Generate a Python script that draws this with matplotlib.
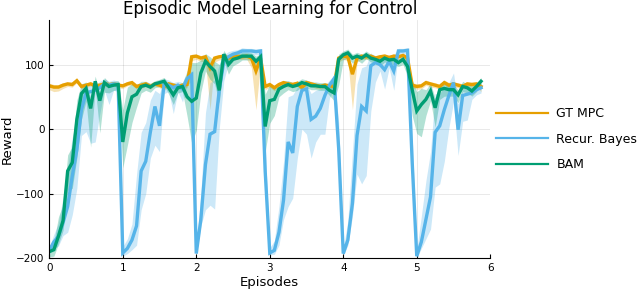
import numpy as np
import matplotlib
matplotlib.use("Agg")
import matplotlib.pyplot as plt

# 16 evaluations per episode
steps_per_episode = 16
n_points = 95

# GT MPC
gt_mean = [67, 65, 65, 68, 70, 69, 75, 66, 68, 70, 67, 68, 70, 69, 70, 68,
           67, 70, 72, 66, 68, 70, 66, 70, 68, 65, 70, 68, 66, 68, 69,
           112, 113, 110, 112, 95, 110, 112, 113, 110, 112, 113, 112, 113, 110, 90, 110,
           66, 69, 64, 69, 72, 70, 69, 71, 64, 72, 70, 68, 66, 68, 67, 66,
           110, 113, 112, 85, 110, 113, 112, 113, 110, 112, 113, 111, 113, 112, 114, 110,
           68, 66, 67, 72, 70, 68, 66, 72, 68, 70, 68, 66, 70, 69, 70, 66]
gt_dlo = [6, 7, 6, 5, 4, 4, 3, 4, 4, 3, 4, 5, 4, 4, 3, 4,
          4, 3, 4, 4, 5, 4, 4, 3, 4, 5, 4, 4, 5, 4, 5,
          6, 5, 5, 8, 65, 6, 5, 4, 5, 4, 5, 4, 5, 15, 60, 8,
          5, 4, 5, 4, 4, 5, 4, 4, 5, 4, 4, 5, 4, 4, 5, 4,
          6, 5, 6, 55, 6, 5, 4, 5, 4, 5, 4, 5, 4, 4, 5, 8,
          5, 4, 5, 4, 5, 4, 5, 4, 4, 5, 4, 4, 5, 4, 4, 8]
gt_dhi = [4, 4, 4, 4, 3, 4, 3, 4, 3, 4, 3, 4, 4, 3, 4, 4,
          3, 4, 3, 4, 3, 4, 4, 3, 4, 4, 3, 4, 4, 3, 4,
          4, 3, 4, 3, 6, 4, 3, 4, 3, 4, 3, 4, 3, 4, 8, 4,
          4, 3, 4, 4, 3, 4, 4, 3, 4, 3, 4, 3, 4, 4, 3, 4,
          4, 3, 4, 10, 4, 3, 4, 3, 4, 3, 4, 3, 4, 3, 4, 4,
          4, 4, 3, 4, 3, 4, 3, 4, 4, 3, 4, 4, 3, 4, 3, 4]

# Recur. Bayes
rb_mean = [-188, -175, -166, -145, -120, -73, -32, 30, 56, 58, 60, 64, 70, 68, 70, 68,
           -192, -185, -172, -150, -65, -50, -5, 35, 5, 70, 68, 64, 68, 62, 78, 84,
           -193, -140, -55, -8, -4, 60, 105, 112, 116, 118, 121, 121, 121, 120, 121,
           -65, -192, -188, -160, -110, -20, -37, 35, 60, 62, 15, 20, 32, 52, 68, 78,
           -30, -193, -172, -115, -10, 35, 28, 98, 103, 100, 92, 105, 90, 121, 121, 122,
           -50, -197, -175, -140, -105, -5, 5, 30, 52, 72, -1, 52, 54, 56, 61, 64]
rb_dlo = [5, 10, 15, 20, 40, 60, 60, 40, 60, 80, 80, 40, 10, 30, 10, 10,
          5, 8, 15, 30, 60, 50, 40, 60, 40, 15, 10, 40, 10, 20, 10, 10,
          3, 10, 70, 110, 120, 60, 30, 10, 8, 6, 6, 5, 5, 5, 5,
          40, 3, 6, 20, 30, 100, 70, 80, 60, 70, 60, 40, 40, 60, 20, 15,
          40, 3, 8, 20, 60, 120, 100, 70, 30, 10, 30, 10, 30, 5, 5, 5,
          40, 3, 10, 30, 50, 85, 90, 80, 50, 30, 40, 40, 40, 10, 8, 8]
rb_dhi = [5, 12, 20, 40, 60, 60, 50, 30, 10, 10, 8, 10, 8, 6, 6, 6,
          10, 15, 25, 80, 60, 60, 50, 25, 50, 8, 8, 8, 6, 10, 8, 6,
          10, 40, 80, 80, 80, 40, 10, 8, 6, 5, 5, 4, 4, 4, 4,
          40, 8, 15, 40, 60, 70, 90, 30, 10, 8, 40, 40, 30, 15, 8, 6,
          40, 8, 30, 80, 80, 60, 70, 20, 10, 15, 20, 10, 25, 4, 4, 4,
          40, 10, 40, 60, 70, 60, 50, 35, 20, 15, 40, 10, 10, 8, 8, 6]

# BAM
bam_mean = [-190, -187, -166, -142, -65, -52, 15, 55, 63, 32, 74, 44, 72, 66, 68, 69,
            -20, 25, 50, 54, 66, 68, 65, 70, 72, 74, 64, 53, 64, 66, 50, 43,
            48, 87, 105, 97, 90, 60, 116, 100, 108, 110, 113, 113, 113, 105, 112,
            4, 44, 46, 62, 66, 69, 66, 68, 72, 70, 67, 67, 66, 66, 60, 56,
            108, 115, 118, 110, 113, 110, 115, 110, 108, 105, 110, 107, 108, 103, 108, 97,
            61, 28, 38, 46, 59, 33, 61, 63, 61, 61, 53, 66, 64, 59, 66, 74]
bam_dlo = [8, 10, 12, 15, 30, 40, 60, 40, 20, 60, 10, 50, 15, 10, 8, 8,
           40, 50, 40, 20, 10, 8, 8, 6, 6, 6, 10, 15, 8, 8, 30, 65,
           50, 30, 15, 20, 20, 20, 10, 15, 10, 8, 6, 6, 6, 8, 6,
           40, 35, 25, 12, 10, 8, 8, 8, 6, 6, 6, 6, 6, 6, 8, 12,
           40, 8, 8, 8, 6, 8, 6, 6, 6, 8, 6, 6, 8, 6, 8, 15,
           40, 35, 50, 25, 15, 30, 15, 12, 10, 10, 12, 8, 8, 8, 8, 6]
bam_dhi = [8, 12, 30, 25, 25, 25, 30, 15, 10, 15, 8, 10, 8, 6, 6, 6,
           50, 40, 20, 15, 8, 6, 6, 5, 5, 6, 6, 10, 6, 6, 40, 60,
           55, 20, 12, 15, 15, 40, 6, 10, 8, 6, 6, 6, 5, 8, 5,
           50, 25, 20, 8, 8, 6, 6, 6, 6, 6, 6, 6, 6, 6, 8, 30,
           8, 6, 6, 6, 6, 6, 6, 6, 5, 6, 6, 6, 6, 6, 5, 10,
           15, 30, 25, 15, 12, 15, 10, 8, 8, 8, 8, 8, 6, 8, 6, 6]

labels = ["GT MPC", "Recur. Bayes", "BAM"]
colors = ["#E69F00", "#56B4E9", "#009E73"]


def plot_rewards():
    x = np.arange(n_points) / steps_per_episode

    fig = plt.figure(figsize=(6.4, 2.9), dpi=100)
    ax = fig.add_axes([0.077, 0.110, 0.689, 0.821])

    series = [(gt_mean, gt_dlo, gt_dhi), (rb_mean, rb_dlo, rb_dhi), (bam_mean, bam_dlo, bam_dhi)]
    for (mean, dlo, dhi), label, color in zip(series, labels, colors):
        mean = np.array(mean, dtype=float)
        lo = mean - np.array(dlo)
        hi = mean + np.array(dhi)
        ax.fill_between(x, lo, hi, color=color, alpha=0.3, linewidth=0)
        ax.plot(x, mean, color=color, linewidth=2.4, label=label, solid_joinstyle="miter")

    ax.set_xlim(0, 6)
    ax.set_ylim(-200, 169)
    ax.set_xticks(range(0, 7))
    ax.set_yticks([-200, -100, 0, 100])
    ax.grid(True, color="black", alpha=0.1, linewidth=0.6)
    ax.set_axisbelow(True)
    for side in ["top", "right"]:
        ax.spines[side].set_visible(False)
    ax.tick_params(direction="in", length=3, labelsize=7.5, width=0.8)

    ax.set_title("Episodic Model Learning for Control", fontsize=12, pad=4)
    ax.set_xlabel("Episodes", fontsize=9.5, labelpad=2)
    ax.set_ylabel("Reward", fontsize=9.5, labelpad=2)

    leg = ax.legend(loc="center left", frameon=False,
                    fontsize=9, handlelength=4.2, handletextpad=0.65, labelspacing=1.0,
                    borderaxespad=0)
    leg.set_bbox_to_anchor((1.001, 0.5), transform=ax.transAxes)
    for line in leg.get_lines():
        line.set_linewidth(1.6)

    fig.savefig("out.png", dpi=100)


plot_rewards()
